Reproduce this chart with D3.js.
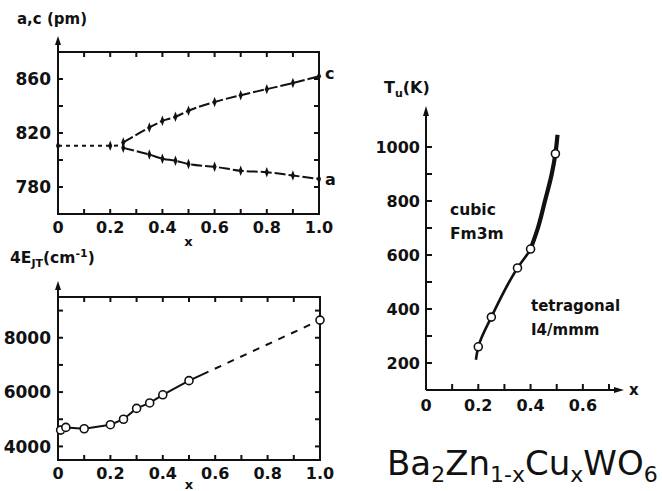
<!DOCTYPE html>
<html><head><meta charset="utf-8">
<script src="https://cdn.jsdelivr.net/npm/d3@7"></script>
<style>
body{margin:0;background:#fff;}
svg text{font-family:"DejaVu Sans",sans-serif;font-weight:bold;fill:#111;}
</style></head>
<body><svg id="c" width="662" height="491"></svg>
<script>
// ---------- data ----------
const xBase = [0, 0.2, 0.25];
const baseVals = [810.5, 810.5, 811];
const xAC = [0.25, 0.35, 0.4, 0.45, 0.5, 0.6, 0.7, 0.8, 0.9, 1.0];
const cVals = [813, 824, 829, 832, 836.5, 843, 848, 852.5, 857, 862];
const aVals = [809, 804, 801, 799.5, 797, 795, 792, 791, 788.5, 786];
const acTicks = [780, 820, 860];
const acMinor = [800, 840];

const xE = [0.01, 0.03, 0.1, 0.2, 0.25, 0.3, 0.35, 0.4, 0.5, 1.0];
const eVals = [4600, 4700, 4650, 4800, 5000, 5400, 5600, 5900, 6420, 8650];
const eTicks = [4000, 6000, 8000];
const eMinor = [5000, 7000, 9000];

const xLeftTicks = [0, 0.2, 0.4, 0.6, 0.8, 1.0];

const xT = [0.2, 0.25, 0.35, 0.4, 0.495];
const tVals = [260, 370, 552, 622, 975];
const curveX = [0.191, 0.2, 0.25, 0.35, 0.4, 0.428, 0.455, 0.481, 0.495, 0.503];
const curveT = [212, 260, 370, 552, 622, 700, 800, 900, 975, 1045];
const tTicks = [200, 400, 600, 800, 1000];
const tMinor = [300, 500, 700, 900];
const xRightTicks = [0, 0.2, 0.4, 0.6];
const xRightMinor = [0.1, 0.3, 0.5, 0.7];

// ---------- drawing ----------
const svg = d3.select("#c");
const fmtX = d => d === 0 ? "0" : d3.format(".1f")(d);
const S = "#111";

function boxPanel(x, y, yTickVals, yMinorVals, tickLen) {
  const [x0, x1] = x.range();
  const [y0, y1] = y.range(); // y0 bottom, y1 top
  const g = svg.append("g");
  g.append("rect").attr("x", x0).attr("y", y1).attr("width", x1 - x0).attr("height", y0 - y1)
    .attr("fill", "none").attr("stroke", S).attr("stroke-width", 2);
  const xt = d3.range(1, 10).map(i => i / 10);
  xt.forEach(v => {
    g.append("line").attr("x1", x(v)).attr("x2", x(v)).attr("y1", y0).attr("y2", y0 - tickLen).attr("stroke", S).attr("stroke-width", 2);
    g.append("line").attr("x1", x(v)).attr("x2", x(v)).attr("y1", y1).attr("y2", y1 + tickLen).attr("stroke", S).attr("stroke-width", 2);
  });
  yTickVals.concat(yMinorVals).forEach(v => {
    g.append("line").attr("x1", x0).attr("x2", x0 + tickLen).attr("y1", y(v)).attr("y2", y(v)).attr("stroke", S).attr("stroke-width", 2);
    g.append("line").attr("x1", x1).attr("x2", x1 - tickLen).attr("y1", y(v)).attr("y2", y(v)).attr("stroke", S).attr("stroke-width", 2);
  });
  yTickVals.forEach(v => {
    g.append("text").attr("x", x0 - 7).attr("y", y(v)).attr("dy", "0.36em").attr("text-anchor", "end")
      .attr("font-size", 17).text(v);
  });
  xLeftTicks.forEach(v => {
    g.append("text").attr("x", x(v)).attr("y", y0 + 19).attr("text-anchor", "middle")
      .attr("font-size", 16).text(fmtX(v));
  });
  g.append("text").attr("x", x(0.5)).attr("y", Math.min(y0 + 32, 489)).attr("text-anchor", "middle")
    .attr("font-size", 13).text("x");
  // arrow on left axis
  g.append("line").attr("x1", x0).attr("x2", x0).attr("y1", y1).attr("y2", y1 - 12).attr("stroke", S).attr("stroke-width", 2);
  g.append("path").attr("d", `M${x0},${y1 - 16} L${x0 - 3},${y1 - 7} L${x0 + 3},${y1 - 7} Z`).attr("fill", S);
  return g;
}

// ---- top-left panel ----
const x1s = d3.scaleLinear().domain([0, 1]).range([58, 319]);
const y1s = d3.scaleLinear().domain([760, 880]).range([214, 52]);
boxPanel(x1s, y1s, acTicks, acMinor, 5);

const line1 = d3.line().x(d => x1s(d[0])).y(d => y1s(d[1]));
svg.append("path").attr("d", line1(d3.zip(xBase, baseVals))).attr("fill", "none")
  .attr("stroke", S).attr("stroke-width", 2).attr("stroke-dasharray", "4,4");
const line1c = d3.line().x(d => x1s(d[0])).y(d => y1s(d[1])).curve(d3.curveMonotoneX);
[cVals, aVals].forEach(vals => {
  svg.append("path").attr("d", line1c(d3.zip(xAC, vals))).attr("fill", "none")
    .attr("stroke", S).attr("stroke-width", 2).attr("stroke-dasharray", "11,3");
});
const diamond = d3.symbol().type(d3.symbolDiamond).size(22);
const allPts = d3.zip(xBase.slice(0, 2), baseVals.slice(0, 2))
  .concat(d3.zip(xAC, cVals)).concat(d3.zip(xAC, aVals));
svg.selectAll(".dm").data(allPts).enter().append("path")
  .attr("d", diamond).attr("transform", d => `translate(${x1s(d[0])},${y1s(d[1])}) scale(0.8,1.2)`).attr("fill", S);
svg.append("text").attr("x", 325).attr("y", 79).attr("font-size", 16).text("c");
svg.append("text").attr("x", 325).attr("y", 185).attr("font-size", 16).text("a");
svg.append("text").attr("x", 17).attr("y", 24).attr("font-size", 15).text("a,c (pm)");

// ---- bottom-left panel ----
const x2s = d3.scaleLinear().domain([0, 1]).range([58, 320]);
const y2s = d3.scaleLinear().domain([3500, 9500]).range([460, 297]);
boxPanel(x2s, y2s, eTicks, eMinor, 5);
const line2 = d3.line().x(d => x2s(d[0])).y(d => y2s(d[1]));
const ePts = d3.zip(xE, eVals);
svg.append("path").attr("d", line2(ePts.slice(0, 9))).attr("fill", "none").attr("stroke", S).attr("stroke-width", 2);
{
  const p0 = [x2s(xE[8]), y2s(eVals[8])], p1 = [x2s(xE[9]), y2s(eVals[9])];
  const pm = d3.interpolateArray(p0, p1)(0.1);
  svg.append("path").attr("d", `M${p0[0]},${p0[1]}L${pm[0]},${pm[1]}`).attr("stroke", S).attr("stroke-width", 2);
  svg.append("path").attr("d", `M${pm[0]},${pm[1]}L${p1[0]},${p1[1]}`).attr("stroke", S).attr("stroke-width", 2)
    .attr("stroke-dasharray", "7,7");
}
svg.selectAll(".ec").data(ePts).enter().append("circle")
  .attr("cx", d => x2s(d[0])).attr("cy", d => y2s(d[1])).attr("r", 4)
  .attr("fill", "#fff").attr("stroke", S).attr("stroke-width", 1.6);
{
  const t = svg.append("text").attr("x", 10).attr("y", 263).attr("font-size", 15.5);
  t.append("tspan").text("4E");
  t.append("tspan").attr("font-size", 11).attr("dy", 4).text("JT");
  t.append("tspan").attr("dy", -4).text("(cm");
  t.append("tspan").attr("font-size", 11).attr("dy", -6).text("-1");
  t.append("tspan").attr("dy", 6).text(")");
}

// ---- right panel ----
const x3s = d3.scaleLinear().domain([0, 0.7]).range([426, 609]);
const y3s = d3.scaleLinear().domain([100, 1000]).range([390, 147]);
svg.append("line").attr("x1", 426).attr("x2", 426).attr("y1", 390).attr("y2", 112).attr("stroke", S).attr("stroke-width", 2);
svg.append("path").attr("d", "M426,106 L423,116 L429,116 Z").attr("fill", S);
svg.append("line").attr("x1", 426).attr("x2", 617).attr("y1", 390).attr("y2", 390).attr("stroke", S).attr("stroke-width", 2);
svg.append("path").attr("d", "M624,390 L614,387 L614,393 Z").attr("fill", S);
tTicks.concat(tMinor).forEach(v => {
  svg.append("line").attr("x1", 426).attr("x2", 432).attr("y1", y3s(v)).attr("y2", y3s(v)).attr("stroke", S).attr("stroke-width", 2);
});
tTicks.forEach(v => {
  svg.append("text").attr("x", 420).attr("y", y3s(v)).attr("dy", "0.36em").attr("text-anchor", "end")
    .attr("font-size", 16).text(v);
});
xRightTicks.slice(1).concat(xRightMinor).forEach(v => {
  svg.append("line").attr("x1", x3s(v)).attr("x2", x3s(v)).attr("y1", 390).attr("y2", 384).attr("stroke", S).attr("stroke-width", 2);
});
xRightTicks.forEach(v => {
  svg.append("text").attr("x", x3s(v)).attr("y", 411).attr("text-anchor", "middle").attr("font-size", 16).text(fmtX(v));
});
svg.append("text").attr("x", 629).attr("y", 395).attr("font-size", 15).text("x");
{
  const t = svg.append("text").attr("x", 384).attr("y", 93).attr("font-size", 16);
  t.append("tspan").text("T");
  t.append("tspan").attr("font-size", 11).attr("dy", 4).text("u");
  t.append("tspan").attr("dy", -4).text("(K)");
}
const line3 = d3.line().x(d => x3s(d[0])).y(d => y3s(d[1])).curve(d3.curveMonotoneY);
const cPts = d3.zip(curveX, curveT);
svg.append("path").attr("d", line3(cPts)).attr("fill", "none").attr("stroke", S).attr("stroke-width", 2.6);
svg.append("path").attr("d", line3(cPts.slice(4))).attr("fill", "none").attr("stroke", S).attr("stroke-width", 4.2);
svg.selectAll(".tc").data(d3.zip(xT, tVals)).enter().append("circle")
  .attr("cx", d => x3s(d[0])).attr("cy", d => y3s(d[1])).attr("r", 4)
  .attr("fill", "#fff").attr("stroke", S).attr("stroke-width", 1.6);
svg.append("text").attr("x", 450).attr("y", 215).attr("font-size", 15.5).text("cubic");
svg.append("text").attr("x", 450).attr("y", 239).attr("font-size", 15.5).text("Fm3m");
svg.append("text").attr("x", 531).attr("y", 311).attr("font-size", 15).text("tetragonal");
svg.append("text").attr("x", 531).attr("y", 335).attr("font-size", 15).text("I4/mmm");

// ---- formula ----
{
  const t = svg.append("text").attr("x", 387).attr("y", 475).attr("font-size", 34).style("font-weight", "normal");
  const parts = [["Ba", 0], ["2", 1], ["Zn", 0], ["1-x", 1], ["Cu", 0], ["x", 1], ["WO", 0], ["6", 1]];
  let prev = 0;
  parts.forEach(([s, sub]) => {
    const dy = sub ? 7 : 0;
    t.append("tspan").attr("dy", dy - prev).attr("font-size", sub ? 22 : 34).text(s);
    prev = dy;
  });
}
</script></body></html>
